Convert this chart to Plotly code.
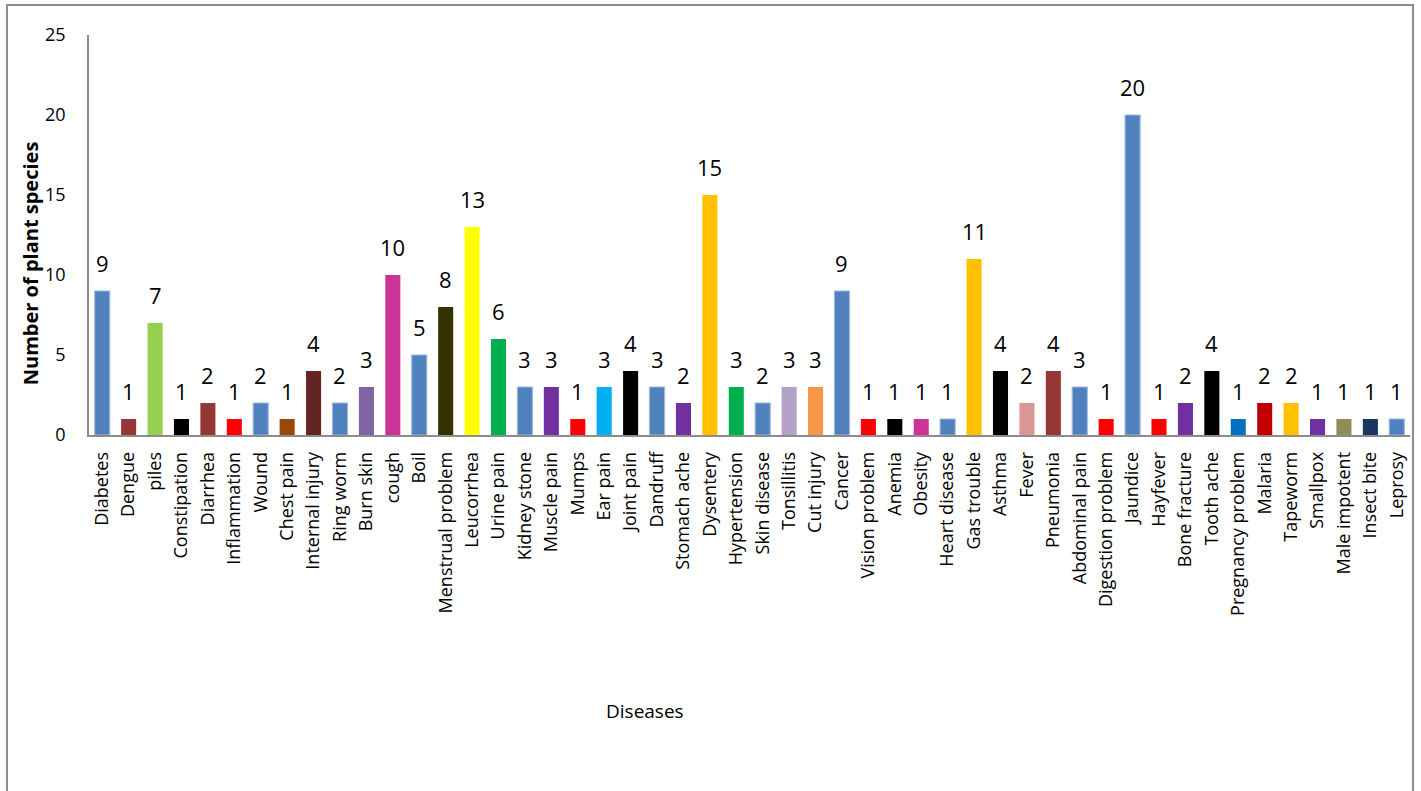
import plotly.graph_objects as go

diseases = ["Diabetes", "Dengue", "piles", "Constipation", "Diarrhea", "Inflammation", "Wound",
            "Chest pain", "Internal injury", "Ring worm", "Burn skin", "cough", "Boil",
            "Menstrual problem", "Leucorrhea", "Urine pain", "Kidney stone", "Muscle pain", "Mumps",
            "Ear pain", "Joint pain", "Dandruff", "Stomach ache", "Dysentery", "Hypertension",
            "Skin disease", "Tonsillitis", "Cut injury", "Cancer", "Vision problem", "Anemia",
            "Obesity", "Heart disease", "Gas trouble", "Asthma", "Fever", "Pneumonia",
            "Abdominal pain", "Digestion problem", "Jaundice", "Hayfever", "Bone fracture",
            "Tooth ache", "Pregnancy problem", "Malaria", "Tapeworm", "Smallpox", "Male impotent",
            "Insect bite", "Leprosy"]

species_count = [9, 1, 7, 1, 2, 1, 2, 1, 4, 2, 3, 10, 5, 8, 13, 6, 3, 3, 1, 3, 4, 3, 2, 15, 3,
                 2, 3, 3, 9, 1, 1, 1, 1, 11, 4, 2, 4, 3, 1, 20, 1, 2, 4, 1, 2, 2, 1, 1, 1, 1]

bar_colors = ["#4F81BD", "#953735", "#92D050", "#000000", "#953735", "#FF0000", "#4F81BD",
              "#984807", "#632523", "#4F81BD", "#8064A2", "#CC3399", "#4F81BD", "#333300",
              "#FFFF00", "#00B050", "#4F81BD", "#7030A0", "#FF0000", "#00B0F0", "#000000",
              "#4F81BD", "#7030A0", "#FFC000", "#00B050", "#4F81BD", "#B2A2C7", "#F79646",
              "#4F81BD", "#FF0000", "#000000", "#CC3399", "#4F81BD", "#FFC000", "#000000",
              "#D99694", "#953735", "#4F81BD", "#FF0000", "#4F81BD", "#FF0000", "#7030A0",
              "#000000", "#0070C0", "#C00000", "#FFC000", "#7030A0", "#948A54", "#17375E",
              "#4F81BD"]

line_colors = ["#9DB9DE" if c == "#4F81BD" else c for c in bar_colors]
line_widths = [1.2 if c == "#4F81BD" else 0 for c in bar_colors]

FONT = "Open Sans"

fig = go.Figure()
fig.add_trace(go.Bar(
    x=diseases, y=species_count,
    marker=dict(color=bar_colors, line=dict(color=line_colors, width=line_widths)),
    showlegend=False, hoverinfo="x+y",
))

for d, v in zip(diseases, species_count):
    fig.add_annotation(x=d, y=v, text=str(v), showarrow=False, yanchor="bottom",
                       yshift=11, font=dict(family=FONT, size=22, color="#000000"))

fig.add_annotation(xref="paper", yref="paper", x=-0.0445, y=0.43, text="<b>Number of plant species</b>",
                   textangle=-90, showarrow=False, xanchor="center", yanchor="middle",
                   font=dict(family=FONT, size=20, color="#000000"))
fig.add_annotation(xref="paper", yref="paper", x=0.421, y=-0.69, text="Diseases",
                   showarrow=False, xanchor="center", yanchor="middle",
                   font=dict(family=FONT, size=19, color="#000000"))

fig.add_shape(type="rect", xref="paper", yref="paper", x0=-0.0621, x1=1.0023, y0=-1.0, y1=1.075,
              line=dict(color="#8C8C8C", width=2), fillcolor="rgba(0,0,0,0)", layer="below")

fig.update_layout(
    width=1421, height=791,
    margin=dict(l=89, r=11, t=35, b=356),
    paper_bgcolor="white", plot_bgcolor="white",
    bargap=0.43,
    font=dict(family=FONT, size=18, color="#000000"),
    xaxis=dict(tickangle=-90, showline=True, linecolor="#8C8C8C", linewidth=1.5,
               showgrid=False, ticks="", ticklabelstandoff=8,
               tickfont=dict(family=FONT, size=18, color="#000000"), automargin=False),
    yaxis=dict(range=[0, 25], dtick=5, showline=True, linecolor="#8C8C8C", linewidth=1.5,
               showgrid=False, zeroline=False, ticks="", ticklabelstandoff=18,
               tickfont=dict(family=FONT, size=18, color="#000000"), automargin=False),
)

fig.write_html("out.html")
